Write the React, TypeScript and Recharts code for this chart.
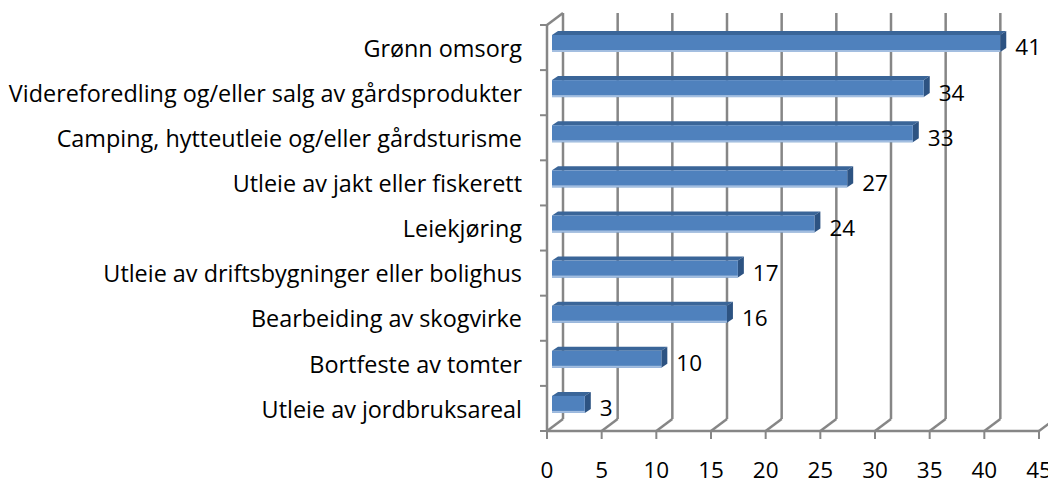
import React from "react";
import { BarChart, Bar, XAxis, YAxis, CartesianGrid, LabelList } from "recharts";

const categories = [
  "Grønn omsorg",
  "Videreforedling og/eller salg av gårdsprodukter",
  "Camping, hytteutleie og/eller gårdsturisme",
  "Utleie av jakt eller fiskerett",
  "Leiekjøring",
  "Utleie av driftsbygninger eller bolighus",
  "Bearbeiding av skogvirke",
  "Bortfeste av tomter",
  "Utleie av jordbruksareal",
];
const values = [41, 34, 33, 27, 24, 17, 16, 10, 3];
const xTicks = [0, 5, 10, 15, 20, 25, 30, 35, 40, 45];

const data = categories.map((name, i) => ({ name, value: values[i] }));

const W = 1048;
const H = 485;
const TOP = 25;
const BOTTOM = 431;
const LEFT = 547;
const RIGHT = 1039;
const BAND = (BOTTOM - TOP) / categories.length;
const DEPTH_X = 16;
const DEPTH_Y = -12;
const GRID = "#868686";
const FONT = "'Open Sans', Lato, sans-serif";
const LABEL_SIZE = 23.4;
const NUM_SIZE = 22.5;

// back wall lines + floor connectors, drawn from the x-axis tick positions
const GridLine = (props: any) => {
  const { x1, y1, y2 } = props;
  const first = Math.abs(x1 - LEFT) < 1;
  return (
    <g>
      <line x1={x1} y1={y2} x2={x1 + DEPTH_X} y2={y2 + DEPTH_Y} stroke={GRID} strokeWidth={2.5} />
      <line
        x1={x1 + DEPTH_X}
        y1={y1 + DEPTH_Y}
        x2={x1 + DEPTH_X}
        y2={y2 + DEPTH_Y}
        stroke={GRID}
        strokeWidth={2.5}
      />
      {first && (
        <line x1={x1} y1={y1} x2={x1 + DEPTH_X} y2={y1 + DEPTH_Y} stroke={GRID} strokeWidth={2.5} />
      )}
    </g>
  );
};

const Bar3D = (props: any) => {
  const { x, y, width, height } = props;
  if (!width || width <= 0) return null;
  const fx = x + 5;
  const fy = y - 4;
  const dx = 6;
  const dy = -4;
  const r = fx + width;
  return (
    <g>
      <polygon
        points={`${fx},${fy} ${fx + dx},${fy + dy} ${r + dx},${fy + dy} ${r},${fy}`}
        fill="#3A6598"
      />
      <polygon
        points={`${r},${fy} ${r + dx},${fy + dy} ${r + dx},${fy + height + dy} ${r},${fy + height}`}
        fill="#2D5382"
      />
      <rect x={fx} y={fy} width={width} height={height} fill="#4F81BD" />
      <rect x={fx} y={fy + height - 2} width={width} height={2} fill="#A3BEE0" />
    </g>
  );
};

const CategoryTick = (props: any) => {
  const { y, payload, index } = props;
  const top = y - BAND / 2;
  return (
    <g>
      <text
        x={LEFT - 25}
        y={y + 1}
        dy="0.35em"
        textAnchor="end"
        fill="#000"
        fontSize={LABEL_SIZE}
        fontFamily={FONT}
      >
        {payload.value}
      </text>
      <line x1={LEFT - 7} y1={top} x2={LEFT} y2={top} stroke={GRID} strokeWidth={2} />
      {index === categories.length - 1 && (
        <line x1={LEFT - 7} y1={y + BAND / 2} x2={LEFT} y2={y + BAND / 2} stroke={GRID} strokeWidth={2} />
      )}
    </g>
  );
};

export default function App() {
  return (
    <div style={{ position: "absolute", left: 0, top: 0, background: "#fff" }}>
      <BarChart
        width={W}
        height={H}
        data={data}
        layout="vertical"
        margin={{ top: TOP, right: W - RIGHT, bottom: 0, left: 0 }}
        barCategoryGap={0}
      >
        <CartesianGrid horizontal={false} vertical={GridLine} />
        <XAxis
          type="number"
          domain={[0, 45]}
          ticks={xTicks}
          interval={0}
          height={H - BOTTOM}
          axisLine={{ stroke: GRID, strokeWidth: 2.5 }}
          tickLine={{ stroke: GRID, strokeWidth: 2 }}
          tickSize={8}
          tickMargin={23}
          tick={{ fill: "#000", fontSize: NUM_SIZE, fontFamily: FONT }}
        />
        <YAxis
          type="category"
          dataKey="name"
          width={LEFT}
          axisLine={{ stroke: GRID, strokeWidth: 2.5 }}
          tickLine={false}
          tick={CategoryTick}
          interval={0}
        />
        <Bar dataKey="value" barSize={17} shape={Bar3D} isAnimationActive={false}>
          <LabelList
            dataKey="value"
            position="right"
            offset={20}
            fill="#000"
            fontSize={NUM_SIZE}
            fontFamily={FONT}
          />
        </Bar>
      </BarChart>
    </div>
  );
}
